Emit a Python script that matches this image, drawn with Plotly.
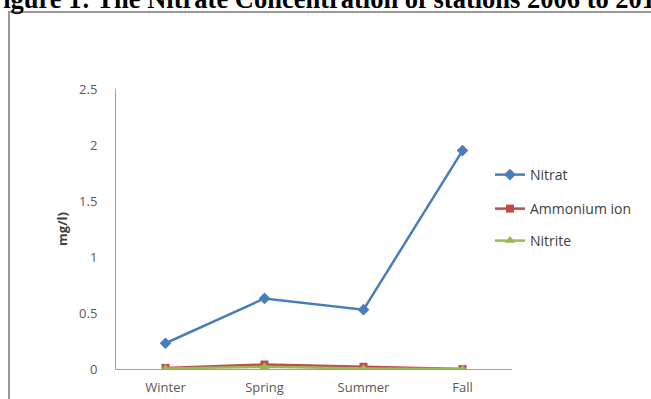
import plotly.graph_objects as go

seasons = ["Winter", "Spring", "Summer", "Fall"]
nitrat = [0.23, 0.63, 0.53, 1.95]
ammonium = [0.01, 0.04, 0.02, 0.0]
nitrite = [0.005, 0.02, 0.005, 0.0]
y_ticks = [0, 0.5, 1, 1.5, 2, 2.5]
y_tick_text = ["0", "0.5", "1", "1.5", "2", "2.5"]

W, H = 651, 399
L, R, T, B = 116, 139, 89, 30
pw, ph = W - L - R, H - T - B

def px_x(p):
    return (p - L) / pw

def px_y(p):
    return (H - B - p) / ph

fig = go.Figure()
fig.add_trace(go.Scatter(x=seasons, y=nitrat, name="Nitrat", mode="lines+markers",
                         line=dict(color="#4a7ebb", width=2.5),
                         marker=dict(symbol="diamond", size=9, color="#4a7ebb"),
                         legend="legend"))
fig.add_trace(go.Scatter(x=seasons, y=ammonium, name="Ammonium ion", mode="lines+markers",
                         line=dict(color="#be4b48", width=2.5),
                         marker=dict(symbol="square", size=8, color="#be4b48"),
                         legend="legend2"))
fig.add_trace(go.Scatter(x=seasons, y=nitrite, name="Nitrite", mode="lines+markers",
                         line=dict(color="#98b954", width=2.5),
                         marker=dict(symbol="triangle-up", size=9, color="#98b954"),
                         legend="legend3"))

legfont = dict(family="Open Sans, Arial", size=14, color="#404040")
def leg(ypx):
    return dict(x=px_x(490), y=px_y(ypx), xanchor="left", yanchor="middle",
                font=legfont, bgcolor="rgba(0,0,0,0)", itemwidth=30)

tickfont = dict(family="Open Sans, Arial", size=13, color="#595959")
fig.update_layout(
    width=W, height=H,
    margin=dict(l=L, r=R, t=T, b=B, pad=0, autoexpand=False),
    paper_bgcolor="white", plot_bgcolor="white",
    showlegend=True,
    legend=leg(175), legend2=leg(209), legend3=leg(241),
    xaxis=dict(type="category", showgrid=False, showline=True, linecolor="#a0a0a0",
               linewidth=1, ticks="", tickfont=tickfont, ticklabelstandoff=6,
               range=[-0.5, 3.5], fixedrange=True, automargin=False),
    yaxis=dict(range=[0, 2.5], tickvals=y_ticks, ticktext=y_tick_text, showgrid=False,
               showline=True, linecolor="#a0a0a0", linewidth=1, ticks="",
               ticklabelstandoff=15, zeroline=False, tickfont=tickfont, automargin=False,
               title=dict(text="<b>mg/l)</b>", font=dict(family="Open Sans, Arial", size=13, color="#404040"),
                          standoff=8)),
)

# outer chart frame (partially cropped)
fig.add_shape(type="rect", xref="paper", yref="paper",
              x0=px_x(9), x1=px_x(700), y0=px_y(450), y1=px_y(12),
              line=dict(color="#9a9a9a", width=2), fillcolor="rgba(0,0,0,0)", layer="below")

# cropped title
fig.add_annotation(xref="paper", yref="paper", x=px_x(-15), y=px_y(-1), xanchor="left", yanchor="middle",
                   text="<b>Figure 1: The Nitrate Concentration of stations 2006 to 2011</b>",
                   showarrow=False, font=dict(family="Liberation Serif, Times New Roman", size=26.5, color="black"))

fig.write_html("out.html")
